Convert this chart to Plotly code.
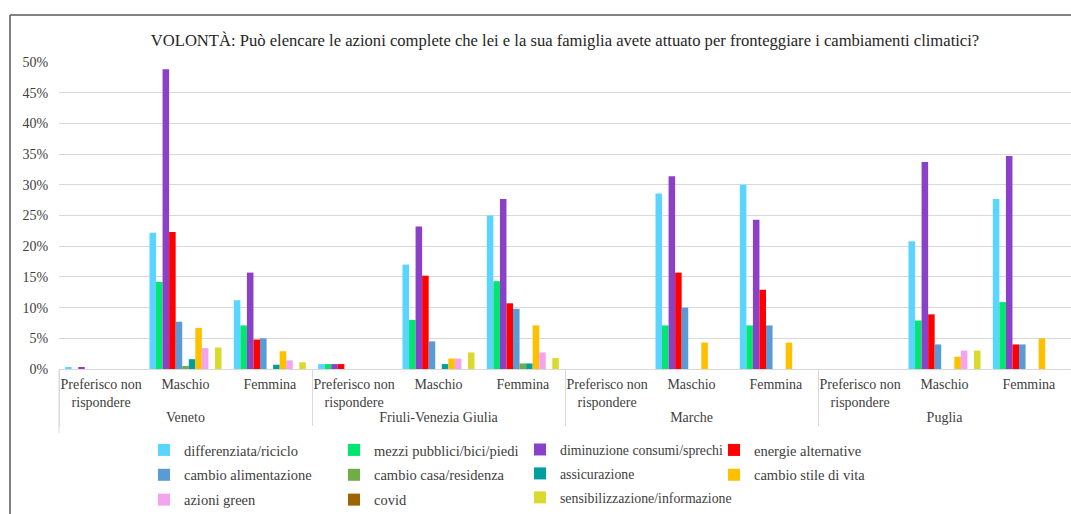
import plotly.graph_objects as go

regions = ["Veneto", "Friuli-Venezia Giulia", "Marche", "Puglia"]
subgroups = ["Preferisco non<br>rispondere", "Maschio", "Femmina"]

series_names = [
    "differenziata/riciclo", "mezzi pubblici/bici/piedi", "diminuzione consumi/sprechi",
    "energie alternative", "cambio alimentazione", "cambio casa/residenza",
    "assicurazione", "cambio stile di vita", "azioni green", "covid",
    "sensibilizzazione/informazione",
]

# values in %, order: Veneto(P,M,F), Friuli(P,M,F), Marche(P,M,F), Puglia(P,M,F)
differenziata = [0.3, 22.2, 11.2, 0.8, 17.0, 25.0, 0, 28.6, 30.0, 0, 20.8, 27.7]
mezzi = [0, 14.2, 7.1, 0.8, 8.0, 14.3, 0, 7.1, 7.1, 0, 7.9, 10.9]
diminuzione = [0.3, 48.8, 15.7, 0.8, 23.2, 27.7, 0, 31.4, 24.3, 0, 33.7, 34.7]
energie = [0, 22.3, 4.8, 0.8, 15.2, 10.7, 0, 15.7, 12.9, 0, 8.9, 4.0]
alimentazione = [0, 7.7, 5.0, 0, 4.5, 9.8, 0, 10.0, 7.1, 0, 4.0, 4.0]
casa = [0, 0.5, 0, 0, 0, 0.9, 0, 0, 0, 0, 0, 0]
assicurazione = [0, 1.6, 0.7, 0, 0.8, 0.9, 0, 0, 0, 0, 0, 0]
stile = [0, 6.7, 2.9, 0, 1.7, 7.1, 0, 4.3, 4.3, 0, 2.0, 5.0]
green = [0, 3.4, 1.4, 0, 1.7, 2.7, 0, 0, 0, 0, 3.0, 0]
covid = [0, 0, 0, 0, 0, 0, 0, 0, 0, 0, 0, 0]
sensibilizzazione = [0, 3.5, 1.1, 0, 2.7, 1.8, 0, 0, 0, 0, 3.0, 0]

y_ticks = [0, 5, 10, 15, 20, 25, 30, 35, 40, 45, 50]
y_tick_labels = ["0%", "5%", "10%", "15%", "20%", "25%", "30%", "35%", "40%", "45%", "50%"]

all_values = [differenziata, mezzi, diminuzione, energie, alimentazione, casa,
              assicurazione, stile, green, covid, sensibilizzazione]
colors = ["#59D5FF", "#00E66E", "#8B40C8", "#FF0000", "#5B9BD5", "#70AD47",
          "#009E9E", "#FFC000", "#F4A4EE", "#9C6500", "#DADA2E"]
legend_of = ["legend", "legend2", "legend3", "legend4",
             "legend", "legend2", "legend3", "legend4",
             "legend", "legend2", "legend3"]

x_outer = [r for r in regions for _ in subgroups]
x_inner = [s for _ in regions for s in subgroups]

FONT = "Liberation Serif, DejaVu Serif, serif"
TXT = "#404040"

fig = go.Figure()
for name, vals, col, lg in zip(series_names, all_values, colors, legend_of):
    fig.add_trace(go.Bar(
        x=[x_outer, x_inner], y=vals, name=name,
        marker=dict(color=col, line=dict(width=0)),
        legend=lg, legendgroup=name,
    ))

W, H = 1071, 514
L, R, T, B = 59, 0, 62, 145
pw = W - L - R
ph = H - T - B

def px_x(px):
    return (px - L) / pw

def px_y(py):
    return (H - B - py) / ph

layout_legends = {}
for key, px, fs in zip(["legend", "legend2", "legend3", "legend4"],
                       [144, 334, 520, 714], [14.5, 14.5, 13.8, 14.5]):
    layout_legends[key] = dict(orientation="v", font=dict(family=FONT, size=fs, color=TXT),
                               bgcolor="rgba(0,0,0,0)", traceorder="grouped", tracegroupgap=3,
                               yanchor="top", xanchor="left", y=px_y(434), x=px_x(px))

fig.update_layout(
    width=W, height=H,
    margin=dict(l=L, r=R, t=T, b=B, autoexpand=False),
    template="none",
    paper_bgcolor="white", plot_bgcolor="white",
    font=dict(family=FONT, size=14, color=TXT),
    title=dict(text="VOLONTÀ: Può elencare le azioni complete che lei e la sua famiglia avete attuato per fronteggiare i cambiamenti climatici?",
               x=565 / W, xanchor="center", y=1 - 40 / H, yanchor="middle",
               font=dict(family=FONT, size=16.6, color="#262626")),
    barmode="group", bargap=0.146, bargroupgap=0,
    showlegend=True,
    **layout_legends,
)
fig.update_yaxes(range=[0, 50], tickmode="array", tickvals=y_ticks, ticktext=y_tick_labels,
                 showgrid=True, gridcolor="#D9D9D9", gridwidth=1,
                 zeroline=False, showline=False, ticks="outside", ticklen=7,
                 tickcolor="rgba(0,0,0,0)",
                 tickfont=dict(family=FONT, size=14, color=TXT))
fig.update_xaxes(type="multicategory", showline=True, linecolor="#D9D9D9", linewidth=1,
                 showgrid=False, zeroline=False,
                 showdividers=True, dividercolor="#D9D9D9", dividerwidth=1,
                 ticks="", tickangle=0, ticklabelstandoff=2,
                 tickfont=dict(family=FONT, size=14, color=TXT))

# chart frame (top and left edges visible in crop) and left divider
fig.add_shape(type="line", xref="paper", yref="paper",
              x0=px_x(10), x1=px_x(1100), y0=px_y(15), y1=px_y(15),
              line=dict(color="#595959", width=1.5))
fig.add_shape(type="line", xref="paper", yref="paper",
              x0=px_x(10), x1=px_x(10), y0=px_y(15), y1=px_y(530),
              line=dict(color="#595959", width=1.5))
fig.add_shape(type="line", xref="paper", yref="paper",
              x0=0, x1=0, y0=0, y1=px_y(433),
              line=dict(color="#D9D9D9", width=1))

fig.write_html("out.html", config={"displayModeBar": False},
               post_script="document.body.style.margin='0px'; document.body.style.overflow='hidden';")
